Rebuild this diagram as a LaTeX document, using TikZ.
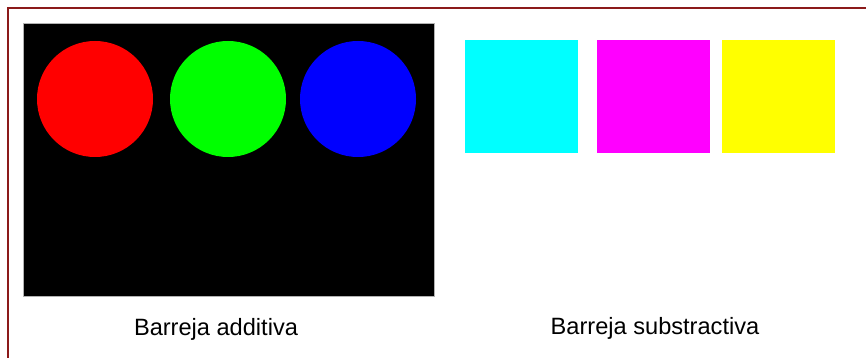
\documentclass[tikz,border=0pt]{standalone}
\usepackage{fontspec}
\setmainfont{Liberation Sans}
\begin{document}
\begin{tikzpicture}[x=1pt,y=-1pt,
  lbl/.style={font=\fontsize{23.6}{28}\selectfont, text=black, inner sep=0pt, anchor=base},
  dot/.style={circle, minimum size=116pt, inner sep=0pt},
  sq/.style={rectangle, minimum width=113pt, minimum height=113pt, inner sep=0pt}]
\useasboundingbox (0,0) rectangle (866,358);
\definecolor{frame}{HTML}{8B1A1A}
\draw[frame, line width=1.5pt] (8,358) -- (8,8) -- (866,8);
\node[draw=gray!60, fill=black, line width=0.6pt, rectangle, inner sep=0pt, minimum width=411pt, minimum height=273pt, anchor=north west] (panel) at (23,23) {};
\node[dot, fill={rgb,255:red,255;green,0;blue,0}] (red) at (95,99) {};
\node[dot, fill={rgb,255:red,0;green,255;blue,0}] (green) at (228,99) {};
\node[dot, fill={rgb,255:red,0;green,0;blue,255}] (blue) at (358,99) {};
\node[sq, fill={rgb,255:red,0;green,255;blue,255}, anchor=north west] (cyan) at (465,40) {};
\node[sq, fill={rgb,255:red,255;green,0;blue,255}, anchor=north west] (magenta) at (597,40) {};
\node[sq, fill={rgb,255:red,255;green,255;blue,0}, anchor=north west] (yellow) at (722,40) {};
\node[lbl] (add) at (216,335) {Barreja additiva};
\node[lbl] (sub) at (655,334) {Barreja substractiva};
\end{tikzpicture}
\end{document}
